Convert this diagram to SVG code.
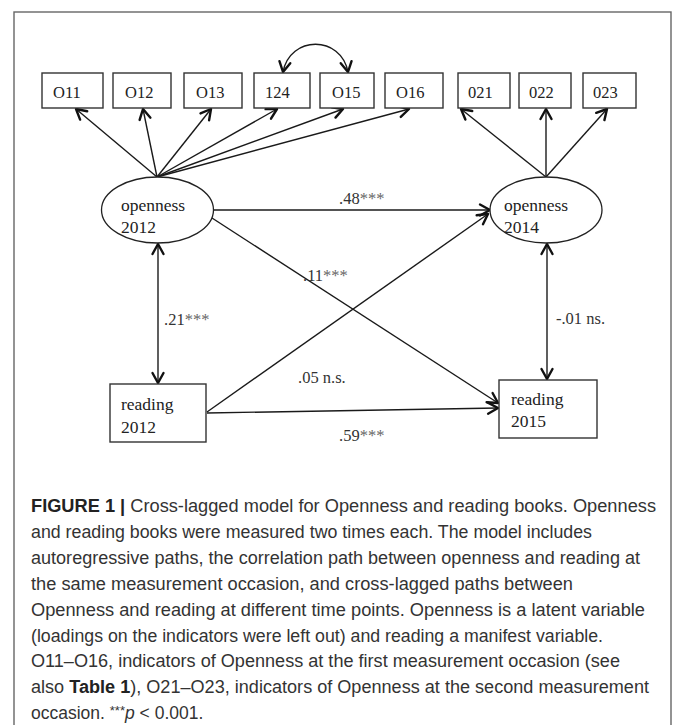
<svg xmlns="http://www.w3.org/2000/svg" width="673" height="725" viewBox="0 0 673 725">
<style>
.frame{fill:none;stroke:#666;stroke-width:1.4}
.box{fill:#fff;stroke:#333;stroke-width:1.4}
.ell{fill:#fff;stroke:#222;stroke-width:1.3}
.t{font-family:"Liberation Serif","Times New Roman",serif;fill:#222}
.ind{font-size:16.5px}
.nt{font-size:17.5px}
.lab{font-family:"Liberation Serif","Times New Roman",serif;font-size:16.5px;fill:#333}
.ast{fill:#666}
.c{fill:none;stroke:#1a1a1a;stroke-width:1.4}
.cap{font-family:"Liberation Sans",Arial,sans-serif;font-size:17.5px;fill:#333}
</style>
<defs>
<marker id="ah" markerWidth="18" markerHeight="18" viewBox="-14 -9 18 18" refX="0" refY="0" orient="auto-start-reverse" markerUnits="userSpaceOnUse">
<path d="M-10,-5.5 L0,0 L-10,5.5" fill="none" stroke="#111" stroke-width="2.4" stroke-linecap="round" stroke-linejoin="round"/>
</marker>
</defs>
<rect class="frame" x="14" y="12" width="657" height="740"/>

<g id="connectors">
<path class="c" d="M283,72 C290,35 341,35 348,72" marker-start="url(#ah)" marker-end="url(#ah)"/>
<line class="c" x1="157" y1="177" x2="76" y2="109" marker-end="url(#ah)"/>
<line class="c" x1="157" y1="177" x2="143" y2="109" marker-end="url(#ah)"/>
<line class="c" x1="157" y1="177" x2="211" y2="109" marker-end="url(#ah)"/>
<line class="c" x1="157" y1="177" x2="277" y2="109" marker-end="url(#ah)"/>
<line class="c" x1="157" y1="177" x2="343" y2="109" marker-end="url(#ah)"/>
<line class="c" x1="157" y1="177" x2="409" y2="109" marker-end="url(#ah)"/>
<line class="c" x1="546" y1="177" x2="461" y2="109" marker-end="url(#ah)"/>
<line class="c" x1="546" y1="177" x2="546" y2="109" marker-end="url(#ah)"/>
<line class="c" x1="546" y1="177" x2="607" y2="109" marker-end="url(#ah)"/>
<line class="c" x1="214" y1="210" x2="490" y2="210" marker-end="url(#ah)"/>
<line class="c" x1="212" y1="218" x2="498" y2="403" marker-end="url(#ah)"/>
<line class="c" x1="207" y1="412" x2="488" y2="214" marker-end="url(#ah)"/>
<line class="c" x1="207" y1="413" x2="498" y2="408" marker-end="url(#ah)"/>
<line class="c" x1="158" y1="244" x2="158" y2="383" marker-start="url(#ah)" marker-end="url(#ah)"/>
<line class="c" x1="547" y1="244" x2="547" y2="379" marker-start="url(#ah)" marker-end="url(#ah)"/>
</g>

<g id="O11"><rect class="box" x="42" y="73" width="61" height="35"/><text class="t ind" x="53" y="98">O11</text></g>
<g id="O12"><rect class="box" x="113" y="73" width="58" height="35"/><text class="t ind" x="125" y="98">O12</text></g>
<g id="O13"><rect class="box" x="184" y="73" width="58" height="35"/><text class="t ind" x="196" y="98">O13</text></g>
<g id="n124"><rect class="box" x="254" y="73" width="56" height="35"/><text class="t ind" x="265" y="98">124</text></g>
<g id="O15"><rect class="box" x="320" y="73" width="54" height="35"/><text class="t ind" x="332" y="98">O15</text></g>
<g id="O16"><rect class="box" x="385" y="73" width="58" height="35"/><text class="t ind" x="396" y="98">O16</text></g>
<g id="n021"><rect class="box" x="458" y="73" width="52" height="35"/><text class="t ind" x="468" y="98">021</text></g>
<g id="n022"><rect class="box" x="519" y="73" width="52" height="35"/><text class="t ind" x="529" y="98">022</text></g>
<g id="n023"><rect class="box" x="583" y="73" width="53" height="35"/><text class="t ind" x="593" y="98">023</text></g>

<g id="openness2012"><ellipse class="ell" cx="157.5" cy="210" rx="56" ry="33"/><text class="t nt" x="121" y="211">openness</text><text class="t nt" x="121" y="233">2012</text></g>
<g id="openness2014"><ellipse class="ell" cx="546" cy="210" rx="56" ry="33"/><text class="t nt" x="504" y="211">openness</text><text class="t nt" x="504" y="233">2014</text></g>
<g id="reading2012"><rect class="box" x="110" y="384" width="96" height="58"/><text class="t nt" x="121" y="410">reading</text><text class="t nt" x="121" y="433">2012</text></g>
<g id="reading2015"><rect class="box" x="499" y="380" width="98" height="58"/><text class="t nt" x="511" y="405">reading</text><text class="t nt" x="511" y="427">2015</text></g>

<g id="labels">
<text class="lab" x="339" y="204">.48<tspan class="ast">***</tspan></text>
<text class="lab" x="303" y="281">.11<tspan class="ast">***</tspan></text>
<text class="lab" x="164" y="325">.21<tspan class="ast">***</tspan></text>
<text class="lab" x="556" y="324">-.01 ns.</text>
<text class="lab" x="298" y="383">.05 n.s.</text>
<text class="lab" x="339" y="441">.59<tspan class="ast">***</tspan></text>
</g>

<g id="caption">
<text class="cap" x="31" y="512" textLength="625" lengthAdjust="spacingAndGlyphs"><tspan font-weight="bold" fill="#222">FIGURE 1 |</tspan> Cross-lagged model for Openness and reading books. Openness</text>
<text class="cap" x="31" y="538" textLength="561" lengthAdjust="spacingAndGlyphs">and reading books were measured two times each. The model includes</text>
<text class="cap" x="31" y="564" textLength="609" lengthAdjust="spacingAndGlyphs">autoregressive paths, the correlation path between openness and reading at</text>
<text class="cap" x="31" y="590" textLength="542" lengthAdjust="spacingAndGlyphs">the same measurement occasion, and cross-lagged paths between</text>
<text class="cap" x="31" y="616" textLength="614" lengthAdjust="spacingAndGlyphs">Openness and reading at different time points. Openness is a latent variable</text>
<text class="cap" x="31" y="642" textLength="572" lengthAdjust="spacingAndGlyphs">(loadings on the indicators were left out) and reading a manifest variable.</text>
<text class="cap" x="31" y="667" textLength="589" lengthAdjust="spacingAndGlyphs">O11–O16, indicators of Openness at the first measurement occasion (see</text>
<text class="cap" x="31" y="693" textLength="618" lengthAdjust="spacingAndGlyphs">also <tspan font-weight="bold" fill="#222">Table 1</tspan>), O21–O23, indicators of Openness at the second measurement</text>
<text class="cap" x="31" y="719">occasion. <tspan font-size="13px" dy="-4">***</tspan><tspan font-style="italic" dy="4">p</tspan> &lt; 0.001.</text>
</g>
</svg>
